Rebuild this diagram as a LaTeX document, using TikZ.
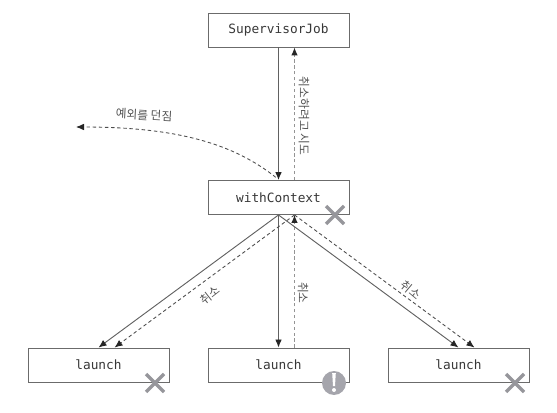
\documentclass[tikz,border=0pt]{standalone}
\usepackage{fontspec}
\setmonofont{DejaVu Sans Mono}
\newfontfamily\krfont{Noto Sans CJK KR}
\usetikzlibrary{arrows.meta}
\definecolor{boxline}{gray}{0.42}
\definecolor{markgray}{RGB}{150,150,155}
\definecolor{bangray}{RGB}{165,165,172}
\tikzset{
  x=0.75pt,y=-0.75pt,
  jobbox/.style={draw=boxline,line width=0.7pt,fill=white,minimum width=105.75pt,minimum height=25.5pt,inner sep=0pt,font=\ttfamily\fontsize{9.6}{11}\selectfont,text=black!78},
  solidflow/.style={draw=black!62,line width=0.7pt,-{Latex[length=6pt,width=5pt,black!85]}},
  dashflow/.style={draw=black!70,line width=0.65pt,dash pattern=on 2.6pt off 2pt,-{Latex[length=6pt,width=5pt,black!85]}},
  grayflow/.style={draw=black!42,line width=0.9pt,dash pattern=on 2.4pt off 2pt,-{Latex[length=6pt,width=5pt,black!85]}},
  lbl/.style={font=\krfont\fontsize{8.8}{10}\selectfont,text=black!68,inner sep=0pt},
  crossmark/.style={draw=markgray,line width=2.5pt}
}
\begin{document}
\begin{tikzpicture}
\useasboundingbox (0,0) rectangle (557,413);
\node[jobbox] (sj) at (278.5,30) {SupervisorJob};
\node[jobbox] (wc) at (278.5,197.5) {withContext};
\node[jobbox] (la) at (98.5,365) {launch};
\node[jobbox] (lb) at (278.5,365) {launch};
\node[jobbox] (lc) at (458.5,365) {launch};
% vertical connectors
\draw[solidflow] (sj.south) -- (wc.north);
\draw[grayflow] ([xshift=12pt]wc.north) -- ([xshift=12pt]sj.south);
\draw[solidflow] (wc.south) -- (lb.north);
\draw[grayflow] ([xshift=12pt]lb.north) -- ([xshift=12pt]wc.south);
% diagonal connectors
\draw[solidflow] (wc.south) -- (la.north);
\draw[dashflow] ([xshift=12pt]wc.south) -- ([xshift=12pt]la.north);
\draw[solidflow] (wc.south) -- (lc.north);
\draw[dashflow] ([xshift=12pt]wc.south) -- ([xshift=12pt]lc.north);
% thrown exception
\coordinate (thrown) at (76,127);
\draw[dashflow] ([xshift=-2pt,yshift=2pt]wc.north) .. controls (235,145) and (180,127) .. (thrown);
% labels
\node[lbl,rotate=-90] (t1) at (304,116) {취소하려고 시도};
\node[lbl,rotate=-3] (t2) at (144,115) {예외를 던짐};
\node[lbl,rotate=-90] (t3) at (303,293) {취소};
\node[lbl,rotate=38] (t4) at (210,295) {취소};
\node[lbl,rotate=-40] (t5) at (411,290) {취소};
% marks
\draw[crossmark] (326,206) -- (344,224) (326,224) -- (344,206);
\draw[crossmark] (146,374) -- (164,392) (146,392) -- (164,374);
\draw[crossmark] (506,374) -- (524,392) (506,392) -- (524,374);
\fill[bangray] (334,383) circle[radius=9pt];
\fill[white] (332.2,373) -- (335.8,373) -- (335,386) -- (333,386) -- cycle;
\fill[white] (334,390) circle[radius=1.5pt];
\end{tikzpicture}
\end{document}
